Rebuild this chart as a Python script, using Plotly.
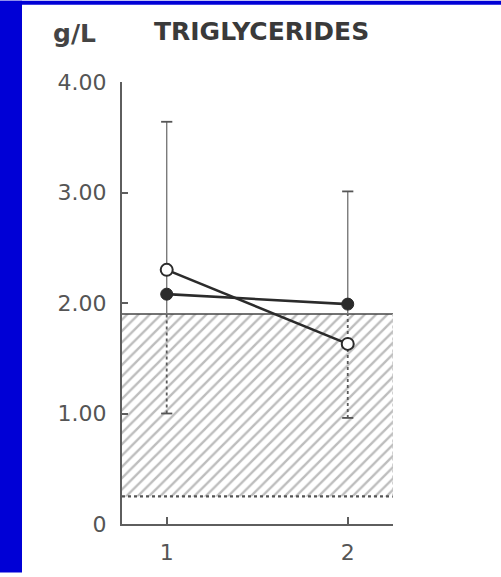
import plotly.graph_objects as go

# --- data -------------------------------------------------------------
groups = [1, 2]
open_means = [2.30, 1.63]       # open circles
filled_means = [2.08, 1.99]     # filled circles
sd_upper = [3.64, 3.01]         # upper whisker ends
sd_lower = [1.00, 0.96]         # lower whisker ends
normal_low = 0.25               # normal range (hatched band)
normal_high = 1.90
y_tickvals = [0, 1, 2, 3, 4]
y_ticktext = ["0", "1.00", "2.00", "3.00", "4.00"]
x_tickvals = [1, 2]
x_ticktext = ["1", "2"]
x_range = [0.753, 2.25]
y_range = [0, 4]

# --- page geometry ----------------------------------------------------
W, H = 501, 577
ML, MR, MT, MB = 122, 108, 82, 49
PW, PH = W - ML - MR, H - MT - MB


def paper_x(px):
    return (px - ML) / PW


def paper_y(py):
    return 1 - (py - MT) / PH


INK = "#2b2b2b"
AXIS = "#5e5e5e"
WHISKER = "#7a7a7a"

fig = go.Figure()

# hatched normal-range band
bx = [x_range[0], x_range[1], x_range[1], x_range[0], x_range[0]]
by = [normal_low, normal_low, normal_high, normal_high, normal_low]
fig.add_trace(go.Scatter(
    x=bx, y=by, mode="lines", fill="toself",
    line=dict(width=0), fillcolor="white",
    fillpattern=dict(shape="/", fgcolor="#7c7c7c", bgcolor="white",
                     size=8, solidity=0.3),
    hoverinfo="skip", showlegend=False,
))
# band edges
fig.add_trace(go.Scatter(
    x=x_range, y=[normal_high, normal_high], mode="lines",
    line=dict(color="#444444", width=1.6), hoverinfo="skip", showlegend=False,
))
fig.add_trace(go.Scatter(
    x=x_range, y=[normal_low, normal_low], mode="lines",
    line=dict(color="#555555", width=2.4, dash="dot"),
    hoverinfo="skip", showlegend=False,
))
fig.add_trace(go.Scatter(
    x=[x_range[1], x_range[1]], y=[normal_low, normal_high], mode="lines",
    line=dict(color="#c4c4c4", width=1.5, dash="dot"),
    hoverinfo="skip", showlegend=False,
))

# whiskers: solid above the band, dotted inside it
for g, lo, hi in zip(groups, sd_lower, sd_upper):
    split = min(max(normal_high, lo), hi)
    fig.add_trace(go.Scatter(
        x=[g, g], y=[split, hi], mode="lines",
        line=dict(color=WHISKER, width=1.4), hoverinfo="skip", showlegend=False,
    ))
    fig.add_trace(go.Scatter(
        x=[g, g], y=[lo, split], mode="lines",
        line=dict(color="#5a5a5a", width=1.8, dash="dot"),
        hoverinfo="skip", showlegend=False,
    ))

# whisker caps
fig.add_trace(go.Scatter(
    x=groups + groups, y=sd_upper + sd_lower, mode="markers",
    marker=dict(symbol="line-ew", size=8, line=dict(color="#555555", width=1.8)),
    hoverinfo="skip", showlegend=False,
))

# filled-circle series
fig.add_trace(go.Scatter(
    x=groups, y=filled_means, mode="lines+markers",
    line=dict(color=INK, width=2.6),
    marker=dict(size=12, color=INK, line=dict(color=INK, width=1)),
    showlegend=False,
))
# open-circle series
fig.add_trace(go.Scatter(
    x=groups, y=open_means, mode="lines+markers",
    line=dict(color=INK, width=2.6),
    marker=dict(size=12, color="white", line=dict(color=INK, width=2)),
    showlegend=False,
))

tick_font = dict(family="DejaVu Sans", size=22, color="#555555")

fig.update_layout(
    width=W, height=H,
    margin=dict(l=ML, r=MR, t=MT, b=MB, pad=0),
    paper_bgcolor="white", plot_bgcolor="white",
    xaxis=dict(
        range=x_range, showgrid=False, zeroline=False,
        showline=True, linecolor=AXIS, linewidth=2,
        tickmode="array", tickvals=x_tickvals, ticktext=x_ticktext,
        ticks="inside", ticklen=7, tickwidth=1.6, tickcolor=AXIS,
        tickfont=tick_font, ticklabelstandoff=8,
    ),
    yaxis=dict(
        range=y_range, showgrid=False, zeroline=False,
        showline=True, linecolor=AXIS, linewidth=2,
        tickmode="array", tickvals=y_tickvals, ticktext=y_ticktext,
        ticks="inside", ticklen=6, tickwidth=1.6, tickcolor=AXIS,
        tickfont=tick_font, ticklabelstandoff=9,
    ),
    shapes=[
        # blue slide frame on the left and along the top
        dict(type="rect", xref="paper", yref="paper",
             x0=paper_x(0), x1=paper_x(22), y0=paper_y(H), y1=paper_y(0),
             fillcolor="#0000d6", line=dict(width=0), layer="above"),
        dict(type="rect", xref="paper", yref="paper",
             x0=paper_x(0), x1=paper_x(W), y0=paper_y(4), y1=paper_y(0),
             fillcolor="#0000d6", line=dict(width=0), layer="above"),
    ],
    annotations=[
        dict(text="g/L", xref="paper", yref="paper",
             x=paper_x(51), y=paper_y(33), xanchor="left", yanchor="middle",
             showarrow=False,
             font=dict(family="DejaVu Sans", size=25, color="#444444", weight="bold")),
        dict(text="TRIGLYCERIDES", xref="paper", yref="paper",
             x=paper_x(261), y=paper_y(31), xanchor="center", yanchor="middle",
             showarrow=False,
             font=dict(family="DejaVu Sans", size=25, color="#3a3a3a", weight="bold")),
    ],
)

fig.write_html("out.html")
